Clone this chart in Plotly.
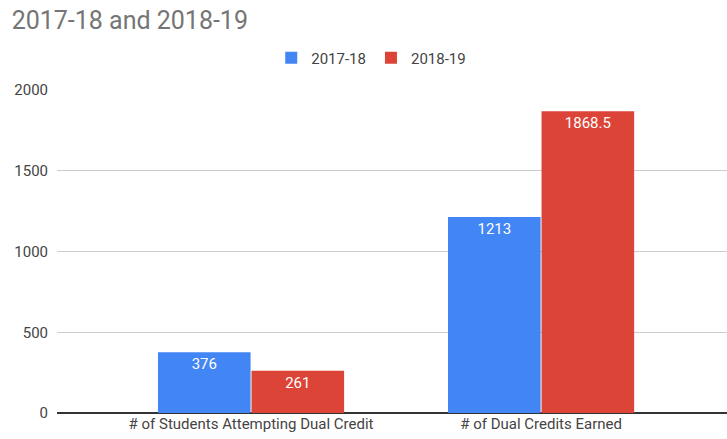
import plotly.graph_objects as go

categories = ["# of Students Attempting Dual Credit", "# of Dual Credits Earned"]
values_2017 = [376, 1213]
values_2018 = [261, 1868.5]
series_names = ["2017-18", "2018-19"]
y_ticks = [0, 500, 1000, 1500, 2000]

fig = go.Figure()
for name, vals, color in [
    (series_names[0], values_2017, "#4285F4"),
    (series_names[1], values_2018, "#DB4437"),
]:
    fig.add_trace(go.Bar(
        x=categories, y=vals, name=name, marker=dict(color=color, line=dict(width=0)),
        text=[f"{v:g}" for v in vals], textposition="inside", insidetextanchor="end",
        textfont=dict(color="white", size=15, family="Roboto"),
        cliponaxis=False,
    ))

fig.update_layout(
    width=727, height=439,
    margin=dict(l=57, r=0, t=90, b=26),
    paper_bgcolor="white", plot_bgcolor="white",
    font=dict(family="Roboto", color="#444444", size=15),
    title=dict(text="2017-18 and 2018-19", x=0.016, xanchor="left", y=0.955, yanchor="middle",
               font=dict(size=25, color="#757575", family="Roboto")),
    barmode="group", bargap=0.355, bargroupgap=0.01,
    legend=dict(orientation="h", x=0.469, xanchor="center", y=1.099, yanchor="middle",
                font=dict(size=15, color="#444444"), itemwidth=30, traceorder="normal"),
    xaxis=dict(type="category", range=[-0.669, 1.641], showgrid=False, showline=False,
               ticks="", tickfont=dict(size=15, color="#444444")),
    yaxis=dict(range=[0, 2000], tickvals=y_ticks, showgrid=True, gridcolor="#cccccc",
               zeroline=True, zerolinecolor="#333333", zerolinewidth=1.5,
               ticks="", ticklabelstandoff=8, tickfont=dict(size=15, color="#444444")),
    uniformtext=dict(minsize=8, mode="show"),
)

fig.write_html("out.html")
